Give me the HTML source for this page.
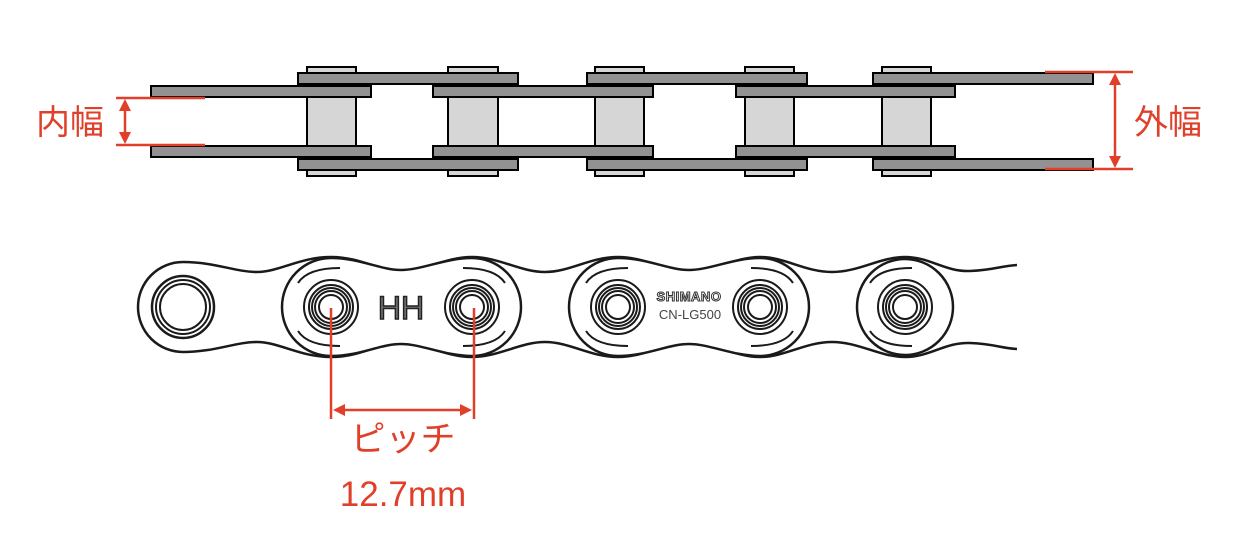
<!DOCTYPE html>
<html><head><meta charset="utf-8"><style>
html,body{margin:0;padding:0;background:#fff;}
svg{display:block}
</style></head><body>
<svg width="1234" height="552" viewBox="0 0 1234 552" xmlns="http://www.w3.org/2000/svg">
<g stroke="#000" stroke-width="2">
 <g fill="#d6d6d6">
  <rect x="307" y="67" width="49" height="6"/><rect x="448" y="67" width="50" height="6"/>
  <rect x="595" y="67" width="49" height="6"/><rect x="745" y="67" width="49" height="6"/>
  <rect x="882" y="67" width="49" height="6"/>
  <rect x="307" y="170" width="49" height="6"/><rect x="448" y="170" width="50" height="6"/>
  <rect x="595" y="170" width="49" height="6"/><rect x="745" y="170" width="49" height="6"/>
  <rect x="882" y="170" width="49" height="6"/>
  <rect x="307" y="97" width="49" height="49"/><rect x="448" y="97" width="50" height="49"/>
  <rect x="595" y="97" width="49" height="49"/><rect x="745" y="97" width="49" height="49"/>
  <rect x="882" y="97" width="49" height="49"/>
 </g>
 <g fill="#929292">
  <rect x="151" y="86" width="220" height="11"/><rect x="433" y="86" width="220" height="11"/><rect x="736" y="86" width="219" height="11"/>
  <rect x="151" y="146" width="220" height="11"/><rect x="433" y="146" width="220" height="11"/><rect x="736" y="146" width="219" height="11"/>
  <rect x="298" y="73" width="220" height="11"/><rect x="587" y="73" width="220" height="11"/><rect x="873" y="73" width="220" height="11"/>
  <rect x="298" y="159" width="220" height="11"/><rect x="587" y="159" width="220" height="11"/><rect x="873" y="159" width="220" height="11"/>
 </g>
</g>
<g stroke="#e0402a" stroke-width="2.5" fill="#e0402a">
 <line x1="116" y1="98" x2="205" y2="98"/><line x1="116" y1="145" x2="205" y2="145"/>
 <line x1="125" y1="104" x2="125" y2="139"/>
 <polygon points="125,99 119,111 131,111" stroke="none"/><polygon points="125,144 119,132 131,132" stroke="none"/>
 <line x1="1045" y1="72" x2="1133" y2="72"/><line x1="1045" y1="169" x2="1133" y2="169"/>
 <line x1="1115" y1="78" x2="1115" y2="163"/>
 <polygon points="1115,73 1109,85 1121,85" stroke="none"/><polygon points="1115,168 1109,156 1121,156" stroke="none"/>
</g>
<g font-family="'Liberation Sans','Noto Sans CJK JP',sans-serif" fill="#e0402a" font-size="34">
 <text x="36" y="134">内幅</text>
 <text x="1134" y="134">外幅</text>
 <text x="403" y="451" text-anchor="middle" font-size="35">ピッチ</text>
 <text x="403" y="506" text-anchor="middle" font-size="35">12.7mm</text>
</g>
<g fill="none" stroke="#1a1a1a" stroke-width="2.5">
 <path d="M183,262 C215,262 235,272 257,272 S300,257 331,257 S380,272 401,272 S445,257 472,257 S520,272 545,272 S590,257 618,257 S665,272 689,272 S735,257 760,257 S805,272 832,272 S880,257 905,257 S945,272 970,271 S1000,266 1017,265"/>
 <path d="M183,352 C215,352 235,342 257,342 S300,357 331,357 S380,342 401,342 S445,357 472,357 S520,342 545,342 S590,357 618,357 S665,342 689,342 S735,357 760,357 S805,342 832,342 S880,357 905,357 S945,342 970,343 S1000,348 1017,349"/>
 <path d="M183,262 A45,45 0 0 0 183,352"/>
 <path d="M331,258 C360,258 380,270 401,270 C422,270 445,258 472,258 A49,49 0 0 1 472,356 C445,356 422,344 401,344 C380,344 360,356 331,356 A49,49 0 0 1 331,258 Z" fill="#fff"/>
 <path d="M618,258 C647,258 668,270 689,270 C710,270 733,258 760,258 A49,49 0 0 1 760,356 C733,356 710,344 689,344 C668,344 647,356 618,356 A49,49 0 0 1 618,258 Z" fill="#fff"/>
 <circle cx="905" cy="307" r="48" fill="#fff"/>
 <path d="M298,283 C305,272 320,268 340,268 M298,331 C305,342 320,346 340,346 M505,283 C498,272 483,268 463,268 M505,331 C498,342 483,346 463,346" stroke-width="2"/>
 <path d="M586,283 C593,272 608,268 628,268 M586,331 C593,342 608,346 628,346 M793,283 C786,272 771,268 751,268 M793,331 C786,342 771,346 751,346" stroke-width="2"/>
 <path d="M870,283 C877,272 892,268 912,268 M870,331 C877,342 892,346 912,346" stroke-width="2"/>
 <circle cx="183" cy="307" r="31"/><circle cx="183" cy="307" r="27" stroke-width="2"/><circle cx="183" cy="307" r="23" stroke-width="2"/>
 <g stroke-width="2">
 <circle cx="331" cy="307" r="27"/><circle cx="331" cy="307" r="22"/><circle cx="331" cy="307" r="19"/><circle cx="331" cy="307" r="16"/><circle cx="331" cy="307" r="12"/>
 <circle cx="472" cy="307" r="27"/><circle cx="472" cy="307" r="22"/><circle cx="472" cy="307" r="19"/><circle cx="472" cy="307" r="16"/><circle cx="472" cy="307" r="12"/>
 <circle cx="618" cy="307" r="27"/><circle cx="618" cy="307" r="22"/><circle cx="618" cy="307" r="19"/><circle cx="618" cy="307" r="16"/><circle cx="618" cy="307" r="12"/>
 <circle cx="760" cy="307" r="27"/><circle cx="760" cy="307" r="22"/><circle cx="760" cy="307" r="19"/><circle cx="760" cy="307" r="16"/><circle cx="760" cy="307" r="12"/>
 <circle cx="905" cy="307" r="27"/><circle cx="905" cy="307" r="22"/><circle cx="905" cy="307" r="19"/><circle cx="905" cy="307" r="16"/><circle cx="905" cy="307" r="12"/>
 </g>
</g>
<g font-family="'Liberation Sans',sans-serif" text-anchor="middle">
 <text x="401" y="319" font-size="32" fill="#777" stroke="#222" stroke-width="1.5">HH</text>
 <text x="689" y="301" font-size="13" font-weight="bold" fill="#fff" stroke="#333" stroke-width="1" letter-spacing="0.5">SHIMANO</text>
 <text x="690" y="319" font-size="13" fill="#444">CN-LG500</text>
</g>
<g stroke="#e0402a" stroke-width="2.5" fill="#e0402a">
 <line x1="331" y1="308" x2="331" y2="419"/><line x1="474" y1="308" x2="474" y2="419"/>
 <line x1="340" y1="410" x2="465" y2="410"/>
 <polygon points="333,410 345,404 345,416" stroke="none"/><polygon points="472,410 460,404 460,416" stroke="none"/>
</g>
</svg>
</body></html>
